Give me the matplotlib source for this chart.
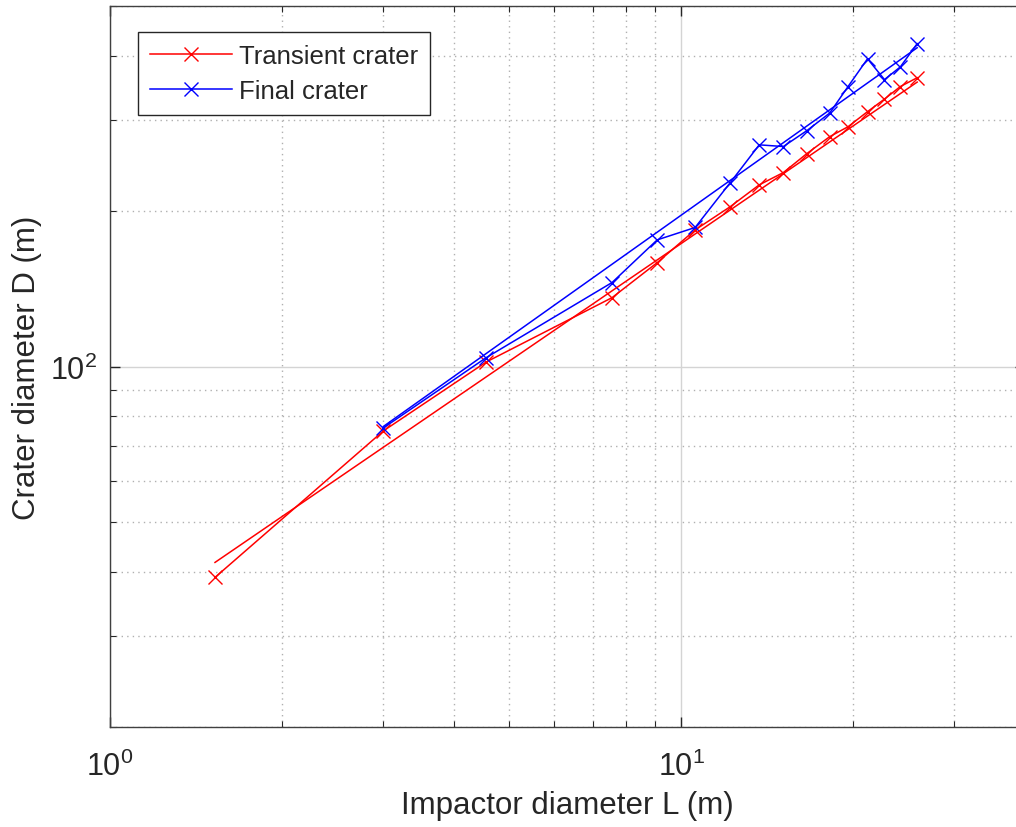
import matplotlib
matplotlib.use('Agg')
import matplotlib.pyplot as plt
import matplotlib.ticker as ticker

plt.rcParams['font.family'] = ['Liberation Sans', 'DejaVu Sans']
plt.rcParams['mathtext.default'] = 'regular'

# impactor diameters L (m)
L_transient = [1.527, 3.01, 4.555, 7.57, 9.08, 10.58, 12.18, 13.7, 15.1,
               16.6, 18.2, 19.6, 21.2, 22.7, 24.2, 25.9]
D_transient = [39.0, 75.0, 102, 136, 159, 184, 204, 225, 237.7,
               258.7, 279, 291.7, 312, 330, 349, 363]

L_final = [3.01, 4.555, 7.57, 9.08, 10.58, 12.18, 13.7, 15.1,
           16.6, 18.2, 19.6, 21.2, 22.7, 24.2, 25.9]
D_final = [76, 104, 145.5, 176, 186, 227, 269, 267,
           286.6, 310, 349, 395, 360, 381, 422.7]

# power-law fit lines (end points)
L_fit_transient = [1.527, 25.9]
D_fit_transient = [41.7, 356]
L_fit_final = [3.01, 25.9]
D_fit_final = [76.5, 415]

txt = '#262626'

fig = plt.figure(figsize=(10.16, 8.28), dpi=100)
ax = fig.add_axes([110 / 1016, 100 / 828, 915 / 1016, 721 / 828])

ax.plot(L_transient, D_transient, color='r', marker='x', markersize=10,
        lw=1.1, label='Transient crater')
ax.plot(L_final, D_final, color='b', marker='x', markersize=10,
        lw=1.1, label='Final crater')
ax.plot(L_fit_transient, D_fit_transient, color='r', lw=1.1)
ax.plot(L_fit_final, D_fit_final, color='b', lw=1.1)

ax.set_xscale('log')
ax.set_yscale('log')
ax.set_xlim(1, 40)
ax.set_ylim(20, 500)

ax.xaxis.set_major_locator(ticker.LogLocator(base=10, numticks=10))
ax.yaxis.set_major_locator(ticker.LogLocator(base=10, numticks=10))
ax.xaxis.set_minor_locator(ticker.LogLocator(base=10, subs=range(2, 10), numticks=20))
ax.yaxis.set_minor_locator(ticker.LogLocator(base=10, subs=range(2, 10), numticks=20))
ax.xaxis.set_minor_formatter(ticker.NullFormatter())
ax.yaxis.set_minor_formatter(ticker.NullFormatter())

ax.grid(True, which='major', color='#d4d4d4', lw=1.0, ls='-')
ax.grid(True, which='minor', color='#b0b0b0', lw=1.0, ls=(0, (1, 3)))
ax.set_axisbelow(True)

ax.tick_params(which='both', direction='in', top=True, right=True,
               colors=txt, labelsize=22)
ax.tick_params(which='major', length=7, width=1.0)
ax.tick_params(which='minor', length=4, width=0.8)
ax.tick_params(axis='x', pad=17)
ax.tick_params(axis='y', pad=9)
for s in ax.spines.values():
    s.set_color('#404040')
    s.set_linewidth(1.0)

ax.set_xlabel('Impactor diameter L (m)', fontsize=22.5, color=txt, labelpad=6)
ax.set_ylabel('Crater diameter D (m)', fontsize=22.5, color=txt, labelpad=6)

leg = ax.legend(loc='upper left', bbox_to_anchor=(0.0306, 0.964),
                borderaxespad=0, fontsize=18.5, fancybox=False,
                edgecolor='#262626', framealpha=1, handlelength=3.2,
                handletextpad=0.3, borderpad=0.45, labelspacing=0.45)
leg.get_frame().set_linewidth(1.0)
for t in leg.get_texts():
    t.set_color(txt)

fig.savefig('out.png', dpi=100)
